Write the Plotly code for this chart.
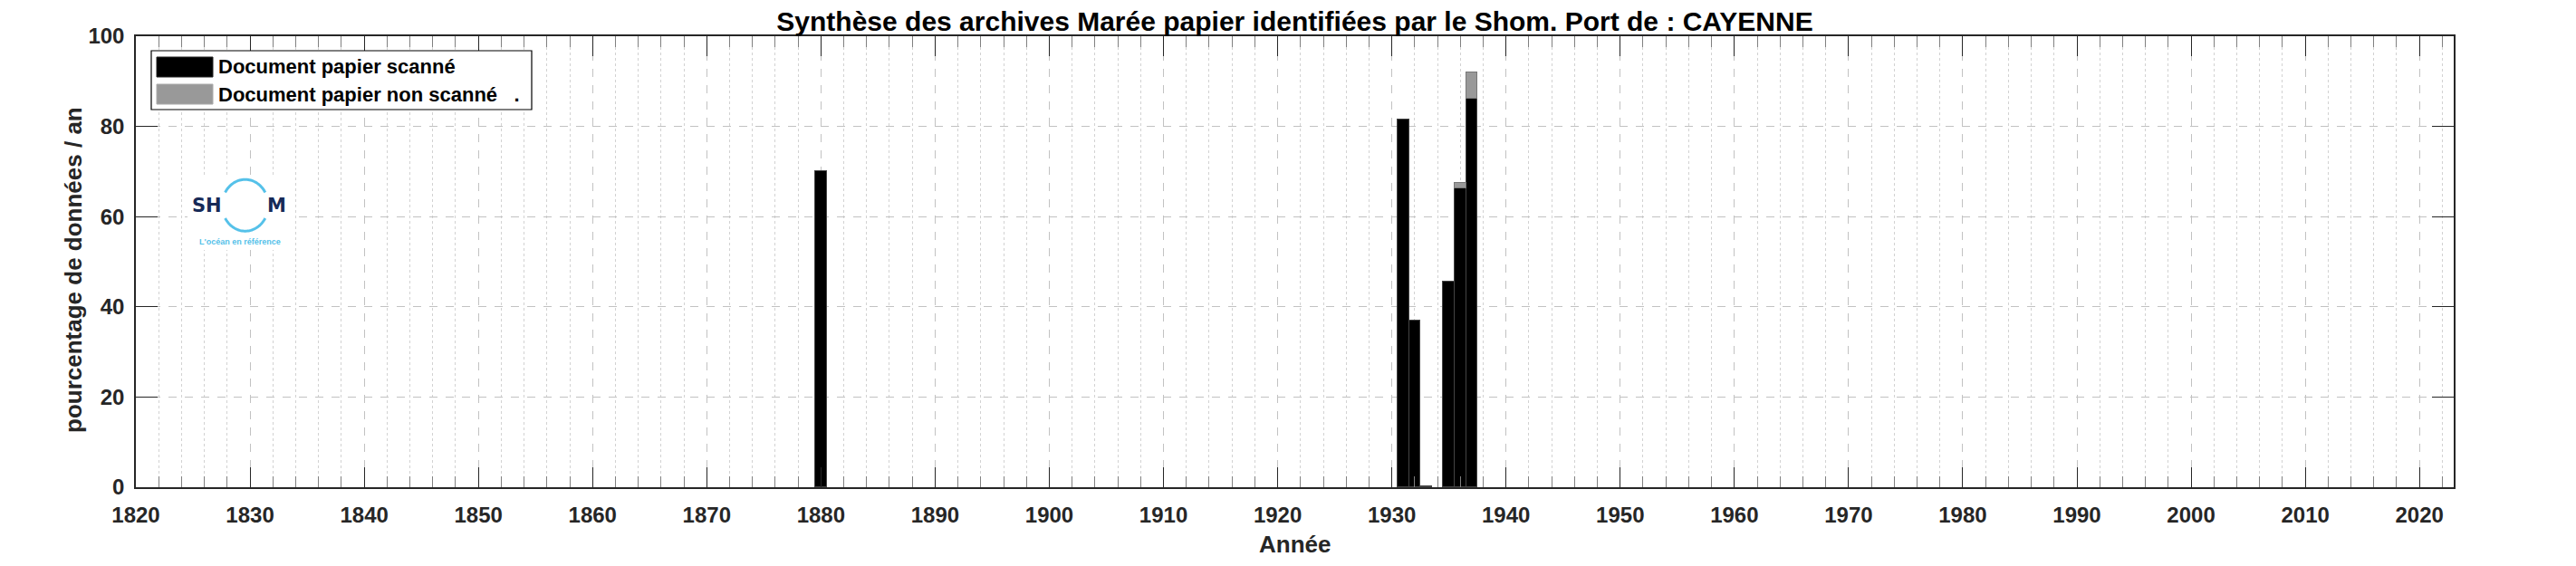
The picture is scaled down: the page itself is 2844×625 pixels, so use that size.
import numpy as np
import plotly.graph_objects as go

# ---------------- data ----------------
years_scanned = [1880, 1931, 1932, 1933, 1935, 1936, 1937]
pct_scanned = [70.0, 81.5, 37.0, 0.3, 45.5, 66.2, 86.2]
years_not_scanned = [1936, 1937]
pct_not_scanned = [1.3, 5.8]

title_text = "Synthèse des archives Marée papier identifiées par le Shom. Port de : CAYENNE"
xlabel = "Année"
ylabel = "pourcentage de données / an"
legend_labels = ["Document papier scanné", "Document papier non scanné   ."]

# ---------------- layout geometry (pixels) ----------------
W, H = 2844, 625
L, R, T, B = 142, 2701, 32, 530

def px(x):
    return (x - L) / (R - L)

def py(y):
    return (B - y) / (B - T)

FONT = "Liberation Sans, Arial, Helvetica, sans-serif"
TICKC = "#262626"

fig = go.Figure()
fig.add_trace(go.Bar(x=years_scanned, y=pct_scanned, width=1,
                     marker=dict(color="black", line=dict(color="#444444", width=1)),
                     name=legend_labels[0], showlegend=False))
fig.add_trace(go.Bar(x=years_not_scanned, y=pct_not_scanned, width=1,
                     marker=dict(color="#999999", line=dict(color="#777777", width=1)),
                     name=legend_labels[1], showlegend=False))

grid_major = "#c2c2c2"
grid_minor = "#d2d2d2"

fig.update_layout(
    width=W, height=H,
    margin=dict(l=L, r=W - R, t=T, b=H - B, pad=0),
    paper_bgcolor="white", plot_bgcolor="white",
    barmode="stack", bargap=0,
    font=dict(family=FONT, size=24, color=TICKC, weight="bold"),
    title=dict(text=title_text, x=0.5, xref="paper", xanchor="center",
               y=1 - 15 / H, yref="container", yanchor="middle",
               font=dict(family=FONT, size=30, color="black", weight="bold")),
    xaxis=dict(range=[1820, 2023], tick0=1820, dtick=10, showgrid=True,
               gridcolor=grid_major, griddash="dash", gridwidth=1,
               ticks="inside", ticklen=22, tickcolor=TICKC, tickwidth=1,
               showline=True, linecolor=TICKC, linewidth=1.5, mirror="ticks",
               zeroline=False, ticklabelstandoff=8,
               tickfont=dict(family=FONT, size=24, color=TICKC, weight="bold"),
               minor=dict(dtick=2, tick0=1820, showgrid=True, gridcolor=grid_minor,
                          griddash="dot", gridwidth=1, ticks="inside", ticklen=12,
                          tickcolor="#808080", tickwidth=1)),
    yaxis=dict(range=[0, 100], tick0=0, dtick=20, showgrid=True,
               gridcolor=grid_major, griddash="dash", gridwidth=1,
               ticks="inside", ticklen=24, tickcolor=TICKC, tickwidth=1,
               showline=True, linecolor=TICKC, linewidth=1.5, mirror="ticks",
               zeroline=False, ticklabelstandoff=6,
               tickfont=dict(family=FONT, size=24, color=TICKC, weight="bold")),
)

shapes = []
annotations = []

# axis titles
annotations.append(dict(text=xlabel, x=0.5, xref="paper", y=py(593), yref="paper",
                        xanchor="center", yanchor="middle", showarrow=False,
                        font=dict(family=FONT, size=26, color=TICKC, weight="bold")))
annotations.append(dict(text=ylabel, x=px(73), xref="paper", y=py(290), yref="paper",
                        xanchor="center", yanchor="middle", showarrow=False, textangle=-90,
                        font=dict(family=FONT, size=26, color=TICKC, weight="bold")))

# ---------------- legend (manual) ----------------
shapes.append(dict(type="rect", xref="paper", yref="paper", x0=px(159), x1=px(579),
                   y0=py(113), y1=py(48), line=dict(color="black", width=1.2),
                   fillcolor="white", layer="above"))
shapes.append(dict(type="rect", xref="paper", yref="paper", x0=px(165), x1=px(227),
                   y0=py(77), y1=py(55), line=dict(color="#222222", width=1),
                   fillcolor="black", layer="above"))
shapes.append(dict(type="rect", xref="paper", yref="paper", x0=px(165), x1=px(227),
                   y0=py(107), y1=py(85), line=dict(color="#aaaaaa", width=1),
                   fillcolor="#999999", layer="above"))
for lab, yc in zip(legend_labels, [66, 96]):
    annotations.append(dict(text=lab, x=px(231), xref="paper", y=py(yc), yref="paper",
                            xanchor="left", yanchor="middle", showarrow=False,
                            font=dict(family=FONT, size=22, color="black", weight="bold")))

# ---------------- SHOM logo (decoration) ----------------
shapes.append(dict(type="rect", xref="paper", yref="paper", x0=px(199), x1=px(313),
                   y0=py(268), y1=py(187), line=dict(width=0), fillcolor="white",
                   layer="above"))
cx, cy, rx, ry = 262.7, 218.7, 25.5, 28.5
blue = "#55c1e9"
for a0, a1 in [(30, 150), (210, 330)]:
    ang = np.radians(np.linspace(a0, a1, 40))
    xs = cx + rx * np.cos(ang)
    ys = cy - ry * np.sin(ang)
    path = "M " + " L ".join(f"{px(a):.6f},{py(b):.6f}" for a, b in zip(xs, ys))
    shapes.append(dict(type="path", xref="paper", yref="paper", path=path,
                       line=dict(color=blue, width=3), layer="above"))
navy = "#172a57"
annotations.append(dict(text="SH", x=px(239), xref="paper", y=py(219), yref="paper",
                        xanchor="right", yanchor="middle", showarrow=False,
                        font=dict(family="DejaVu Sans, sans-serif", size=21, color=navy, weight="bold")))
annotations.append(dict(text="M", x=px(285), xref="paper", y=py(219), yref="paper",
                        xanchor="left", yanchor="middle", showarrow=False,
                        font=dict(family="DejaVu Sans, sans-serif", size=21, color=navy, weight="bold")))
annotations.append(dict(text="L'océan en référence", x=px(257), xref="paper", y=py(259),
                        yref="paper", xanchor="center", yanchor="middle", showarrow=False,
                        font=dict(family=FONT, size=9, color=blue)))

fig.update_layout(shapes=shapes, annotations=annotations)
fig.write_html("out.html")
